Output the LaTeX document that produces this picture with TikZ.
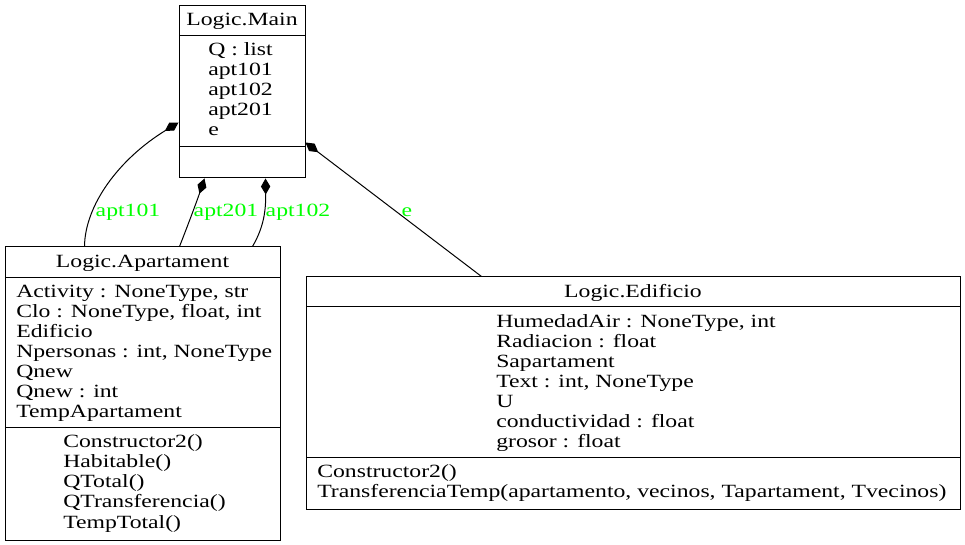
\documentclass[tikz,border=0pt]{standalone}
\usepackage{fontspec}
\setmainfont{Liberation Serif}[FakeStretch=1.27]
\usetikzlibrary{arrows.meta,fit}
\definecolor{lblgreen}{RGB}{0,255,0}
\begin{document}
\begin{tikzpicture}[x=0.75pt,y=-0.75pt,
  every node/.style={font=\fontsize{14}{15}\selectfont},
  box/.style={draw,line width=0.75pt,inner sep=0pt,fit={#1}},
  sep/.style={line width=0.75pt},
  txt/.style={anchor=base west,inner sep=0pt},
  ttl/.style={anchor=base,inner sep=0pt},
  lbl/.style={text=lblgreen,inner sep=0pt},
  comp/.style={line width=0.75pt,{Diamond[length=12pt,width=7pt]}-}]
\useasboundingbox (0,0) rectangle (965,545);

% Logic.Main
\node[box={(179,6)(305,178)}] (main) {};
\node[ttl] (mainT) at (242,26) {Logic.Main};
\draw[sep] (179,36) -- (305,36);
\draw[sep] (179,147) -- (305,147);
\foreach \t [count=\i from 0] in {{Q : list},apt101,apt102,apt201,e}
  \node[txt] (ma\i) at (208,56+20*\i) {\t};

% Logic.Apartament
\node[box={(5,247)(280,540)}] (apt) {};
\node[ttl] (aptT) at (142.5,268) {Logic.Apartament};
\draw[sep] (5,278) -- (280,278);
\draw[sep] (5,428) -- (280,428);
\foreach \t [count=\i from 0] in {{Activity : NoneType, str},{Clo : NoneType, float, int},Edificio,{Npersonas : int, NoneType},Qnew,{Qnew : int},TempApartament}
  \node[txt] (aa\i) at (16,298+20*\i) {\t};
\foreach \t [count=\i from 0] in {Constructor2(),Habitable(),QTotal(),QTransferencia(),TempTotal()}
  \node[txt] (am\i) at (63,448+20*\i) {\t};

% Logic.Edificio
\node[box={(306,277)(960,510)}] (edi) {};
\node[ttl] (ediT) at (633,298) {Logic.Edificio};
\draw[sep] (306,307) -- (960,307);
\draw[sep] (306,458) -- (960,458);
\foreach \t [count=\i from 0] in {{HumedadAir : NoneType, int},{Radiacion : float},Sapartament,{Text : int, NoneType},U,{conductividad : float},{grosor : float}}
  \node[txt] (ea\i) at (496,328+20*\i) {\t};
\foreach \t [count=\i from 0] in {Constructor2(),{TransferenciaTemp(apartamento, vecinos, Tapartament, Tvecinos)}}
  \node[txt] (em\i) at (317,478+20*\i) {\t};

% connectors
\draw[comp] ([shift={(0,117)}]main.north west) .. controls (119,159) and (85,205) .. ([shift={(80,0)}]apt.north west);
\draw[comp] ([shift={(26,0)}]main.south west) .. controls (198,198) and (188,225) .. ([shift={(175,0)}]apt.north west);
\draw[comp] ([shift={(87,0)}]main.south west) .. controls (266,215) and (262,230) .. ([shift={(248,0)}]apt.north west);
\draw[comp] ([shift={(0,137)}]main.north east) -- ([shift={(176,0)}]edi.north west);

\node[lbl] (l1) at (128,212) {apt101};
\node[lbl] (l2) at (226,212) {apt201};
\node[lbl] (l3) at (298,212) {apt102};
\node[lbl] (l4) at (407,212) {e};
\end{tikzpicture}
\end{document}
